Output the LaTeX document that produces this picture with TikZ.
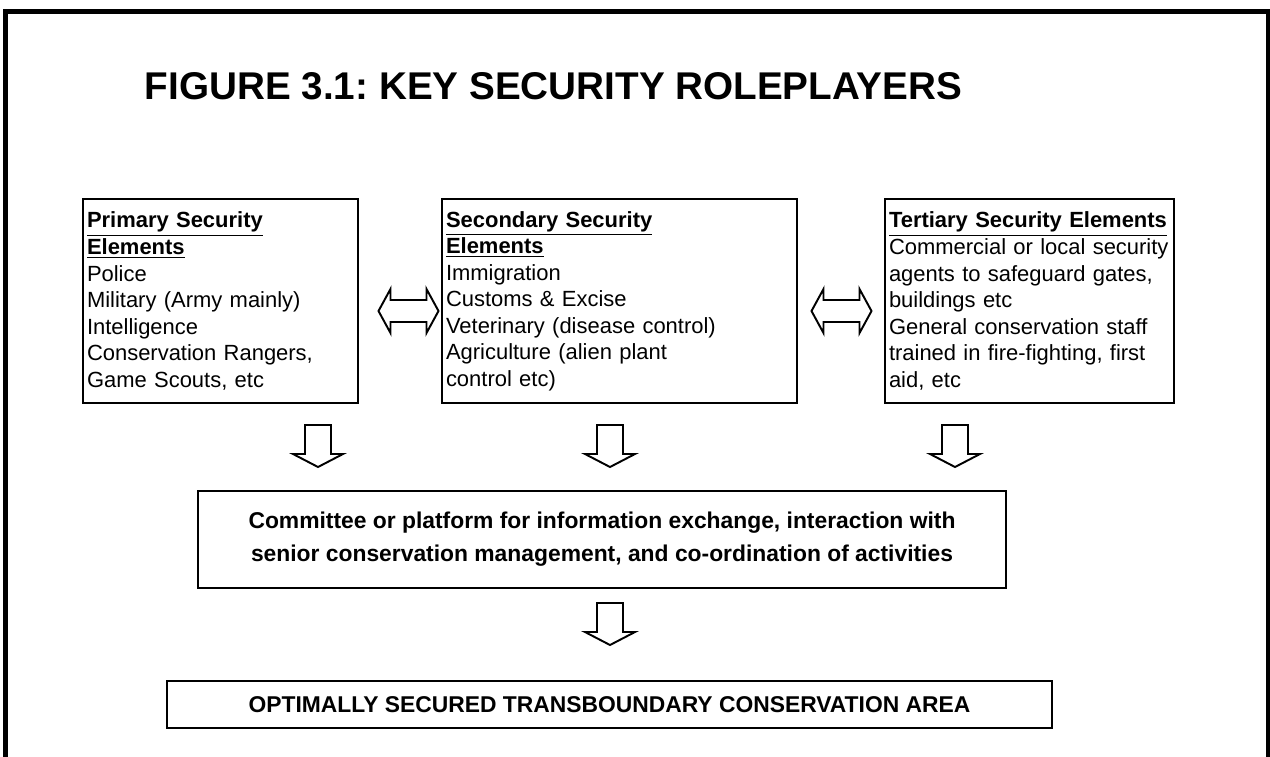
\documentclass[tikz,border=0pt]{standalone}
\usepackage{fontspec}
\setmainfont{Liberation Sans}
\frenchspacing
\hyphenpenalty=10000
\begin{document}
\begin{tikzpicture}[line join=miter]
    \tikzstyle{elembox}=[draw,line width=1.4pt,align=left,inner xsep=0.08cm,minimum height=4.08cm,font=\fontsize{12.5}{15.1}\selectfont];
    \tikzstyle{boldbox}=[draw,line width=1.4pt,align=center,font=\fontsize{13}{18.8}\selectfont\bfseries];
    \tikzstyle{blockarrow}=[draw,line width=1.1pt,fill=white];
    \tikzset{
      downblock/.pic={\draw[blockarrow] (-0.26,0) -- (0.26,0) -- (0.26,-0.58) -- (0.5,-0.58) -- (0,-0.84) -- (-0.5,-0.58) -- (-0.26,-0.58) -- cycle;},
      bothblock/.pic={\draw[blockarrow] (-0.6,0) -- (-0.36,0.44) -- (-0.36,0.22) -- (0.36,0.22) -- (0.36,0.44) -- (0.6,0) -- (0.36,-0.44) -- (0.36,-0.22) -- (-0.36,-0.22) -- (-0.36,-0.44) -- cycle;}
    }
    \useasboundingbox (0,0) rectangle (25.4,-15.12);
    % outer frame, runs off the bottom of the page
    \draw[line width=2.8pt] (0.116,-15.5) -- (0.116,-0.23) -- (25.37,-0.23) -- (25.37,-15.5);

    \node at (11.07,-1.98) (title) [anchor=base,font=\fontsize{22}{26}\selectfont\bfseries] {FIGURE 3.1: KEY SECURITY ROLEPLAYERS};

    \node at (4.41,-6.02)  (prim) [elembox,text width=5.34cm] {\textbf{\underline{Primary Security}}\\\textbf{\underline{Elements}}\\Police\\Military (Army mainly)\\Intelligence\\Conservation Rangers,\\Game Scouts, etc};
    \node at (12.39,-6.02) (sec)  [elembox,text width=6.94cm] {\textbf{\underline{Secondary Security}}\\\textbf{\underline{Elements}}\\Immigration\\Customs \& Excise\\Veterinary (disease control)\\Agriculture (alien plant\\control etc)};
    \node at (20.59,-6.02) (tert) [elembox,text width=5.62cm] {\textbf{\underline{Tertiary Security Elements}}\\Commercial or local security\\agents to safeguard gates,\\buildings etc\\General conservation staff\\trained in fire-fighting, first\\aid, etc};

    \node at (12.04,-10.79) (comm) [boldbox,minimum width=16.16cm,minimum height=1.94cm] {Committee or platform for information exchange, interaction with\\senior conservation management, and co-ordination of activities};
    \node at (12.19,-14.09) (tfca) [boldbox,minimum width=17.7cm,minimum height=0.94cm] {OPTIMALLY SECURED TRANSBOUNDARY CONSERVATION AREA};

    \pic at (8.17,-6.22) {bothblock};
    \pic at (16.83,-6.22) {bothblock};
    \pic at (6.36,-8.5) {downblock};
    \pic at (12.2,-8.5) {downblock};
    \pic at (19.1,-8.5) {downblock};
    \pic at (12.2,-12.06) {downblock};
\end{tikzpicture}
\end{document}
